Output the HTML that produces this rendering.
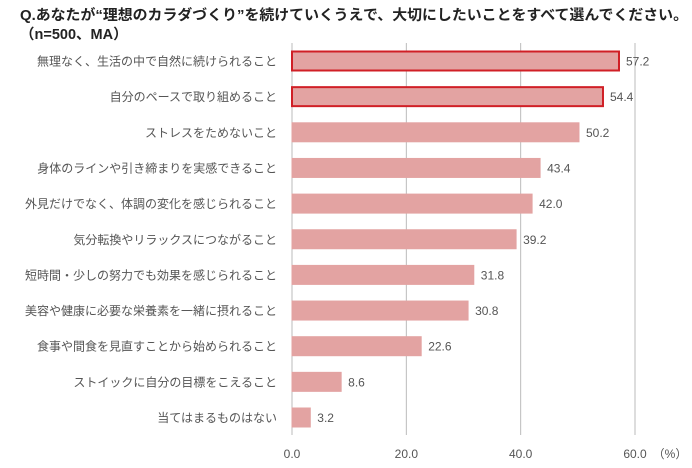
<!DOCTYPE html>
<html><head><meta charset="utf-8"><style>
body{margin:0;background:#fff;font-family:"Liberation Sans","Noto Sans CJK JP",sans-serif;}
svg{display:block}
</style></head><body>
<svg width="692" height="468">
<text x="20" y="20" font-size="14.5" font-weight="bold" fill="#222" textLength="668" lengthAdjust="spacingAndGlyphs">Q.あなたが“理想のカラダづくり”を続けていくうえで、大切にしたいことをすべて選んでください。</text>
<text x="20" y="39" font-size="14.5" font-weight="bold" fill="#222">（n=500、MA）</text>
<g id="grid"></g><g id="bars"></g>
<text x="670" y="458" font-size="12" fill="#555" text-anchor="middle">（%）</text>
</svg>
<script>
const categories=["無理なく、生活の中で自然に続けられること","自分のペースで取り組めること","ストレスをためないこと","身体のラインや引き締まりを実感できること","外見だけでなく、体調の変化を感じられること","気分転換やリラックスにつながること","短時間・少しの努力でも効果を感じられること","美容や健康に必要な栄養素を一緒に摂れること","食事や間食を見直すことから始められること","ストイックに自分の目標をこえること","当てはまるものはない"];
const values=[57.2,54.4,50.2,43.4,42.0,39.2,31.8,30.8,22.6,8.6,3.2];
const highlighted=[true,true,false,false,false,false,false,false,false,false,false];
const ticks=[0,20,40,60];
const NS="http://www.w3.org/2000/svg";
const x=v=>292+v*(343/60);
const y=i=>61+i*35.65;
function mk(t,a,p){const e=document.createElementNS(NS,t);for(const k in a)e.setAttribute(k,a[k]);p.appendChild(e);return e;}
const g=document.getElementById('grid'),b=document.getElementById('bars');
ticks.forEach(t=>{
 const l=mk('line',{x1:x(t),x2:x(t),y1:43,y2:435,stroke:'#bbb','stroke-width':1},g);
 
 
 const tx=mk('text',{x:x(t),y:458,'font-size':12,fill:'#555','text-anchor':'middle'},g);
 tx.textContent=t.toFixed(1);
 
 
});
categories.forEach((c,i)=>{
 const cy=y(i),v=values[i];
 const r=mk('rect',{x:x(0),y:cy-9.5,width:x(v)-x(0),height:19,fill:'#e3a3a2',stroke:highlighted[i]?'#d01f26':'#e3a3a2','stroke-width':highlighted[i]?2:1},b);
 
 
 const lb=mk('text',{x:277,y:cy+4.5,'font-size':12,fill:'#555','text-anchor':'end'},b);
 lb.textContent=c;
 
 
 const vl=mk('text',{x:x(v)+7,y:cy+4.5,'font-size':12,fill:'#555'},b);
 vl.textContent=v.toFixed(1);
 
 
});
</script>
</body></html>
